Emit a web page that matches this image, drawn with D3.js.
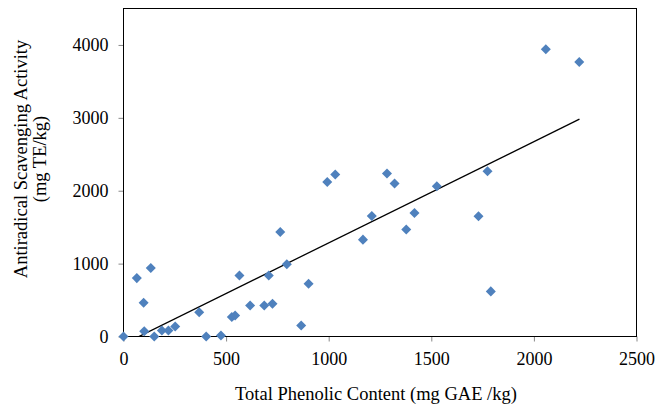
<!DOCTYPE html>
<html><head><meta charset="utf-8">
<script src="https://cdn.jsdelivr.net/npm/d3@7"></script>
<style>
body{margin:0;background:#fff}svg{display:block}
text{font-family:"Liberation Serif","Times New Roman",serif;fill:#000}
.tick text{font-family:"Liberation Serif","Times New Roman",serif !important;font-size:18px !important;fill:#000 !important}
.tick line{stroke:#888 !important}
.domain{display:none}
</style>
</head><body><svg id="c" width="655" height="407"></svg>
<script>
const xValues = [0,65,133,98,101,150,187,219,252,369,403,475,528,544,565,617,686,708,726,764,796,866,902,993,1032,1167,1210,1284,1321,1378,1418,1527,1730,1774,1790,2058,2221];
const yValues = [0,801,939,463,73,0,82,82,137,334,0,14,266,289,838,426,426,838,449,1434,990,151,724,2121,2222,1329,1654,2236,2099,1467,1695,2062,1649,2268,619,3941,3766];
const trendX = [0,2222];
const trendY = [-105,2982];
const xTicks = [0,500,1000,1500,2000,2500];
const yTicks = [0,1000,2000,3000,4000];
const xTitle = "Total Phenolic Content (mg GAE /kg)";
const yTitle1 = "Antiradical Scavenging Activity";
const yTitle2 = "(mg TE/kg)";

const svg = d3.select("#c");
const L=123.5,R=636.5,T=8.5,B=336.5;
const x = d3.scaleLinear().domain([0,2500]).range([L,R]);
const y = d3.scaleLinear().domain([0,4500]).range([B,T]);

svg.append("defs").append("clipPath").attr("id","clip").append("rect")
 .attr("x",L).attr("y",T).attr("width",R-L).attr("height",B-T);

svg.append("g").attr("transform",`translate(0,${B})`)
 .attr("font-family","Liberation Serif").attr("font-size",18)
 .call(d3.axisBottom(x).tickValues(xTicks).tickSize(5).tickPadding(11).tickFormat(d3.format("d")));
svg.append("g").attr("transform",`translate(${L},0)`)
 .attr("font-family","Liberation Serif").attr("font-size",18)
 .call(d3.axisLeft(y).tickValues(yTicks).tickSize(5).tickPadding(10).tickFormat(d3.format("d")));

svg.append("rect").attr("x",L).attr("y",T).attr("width",R-L).attr("height",B-T)
 .attr("fill","none").attr("stroke","#000").attr("stroke-width",1);

svg.append("line").attr("clip-path","url(#clip)")
 .attr("x1",x(trendX[0])).attr("y1",y(trendY[0])).attr("x2",x(trendX[1])).attr("y2",y(trendY[1]))
 .attr("stroke","#000").attr("stroke-width",1.3);

const data = xValues.map((v,i)=>({x:v,y:yValues[i]}));
svg.append("g").selectAll("path").data(data).join("path")
 .attr("transform",d=>`translate(${x(d.x)},${y(d.y)})`)
 .attr("d",d3.symbol(d3.symbolDiamond2,64)())
 .attr("fill","#4F81BD");

svg.append("text").attr("x",376).attr("y",400).attr("text-anchor","middle")
 .style("font-size","18.5px").text(xTitle);
const cy=159;
svg.append("text").attr("transform",`translate(27,${cy}) rotate(-90)`).attr("text-anchor","middle")
 .style("font-size","18.5px").text(yTitle1);
svg.append("text").attr("transform",`translate(46,${cy}) rotate(-90)`).attr("text-anchor","middle")
 .style("font-size","18.5px").text(yTitle2);
</script></body></html>
